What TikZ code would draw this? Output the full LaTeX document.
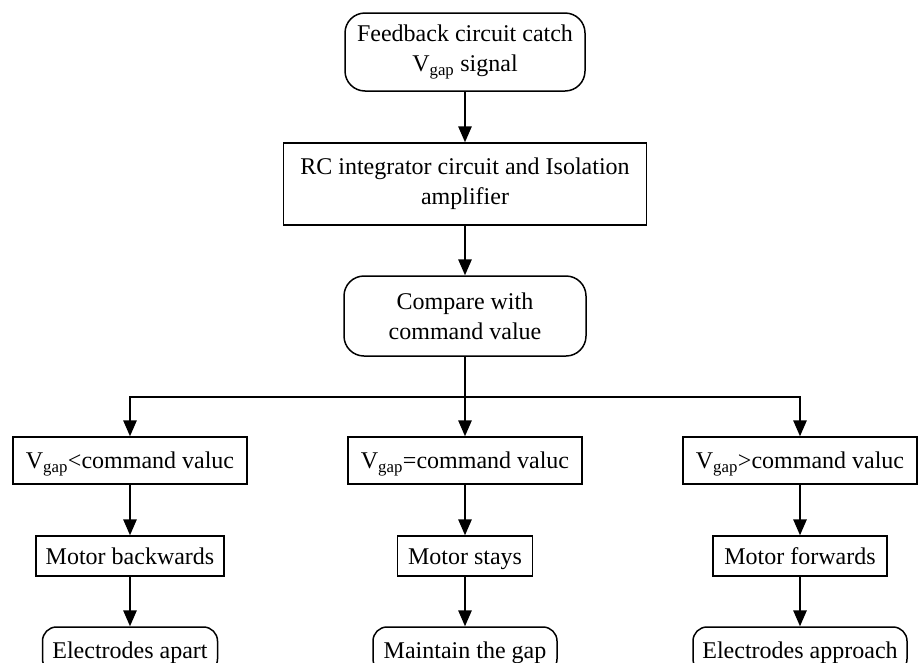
\documentclass[tikz,border=0pt]{standalone}
\usepackage{fontspec}
\setmainfont{Liberation Serif}
\usetikzlibrary{arrows.meta}

\tikzset{
  base/.style={draw, line width=1.5pt, inner sep=0pt, align=center,
               font=\fontsize{24}{30}\selectfont},
  oneline/.style={text height=20pt, text depth=4pt},
  rbox/.style={base},
  rnd/.style={base, rounded corners=20pt},
  rndsmall/.style={base, oneline, rounded corners=14pt},
  link/.style={line width=1.5pt, -{Triangle[length=16pt,width=13.5pt]}},
}

\begin{document}
\begin{tikzpicture}[x=1pt, y=-1pt]
\useasboundingbox (0,0) rectangle (918,662);

% main chain
\node[rnd, minimum width=240pt, minimum height=78pt] (fb) at (465,52)
  {Feedback circuit catch\\V\textsubscript{gap} signal};
\node[rbox, minimum width=363pt, minimum height=82pt] (rc) at (465,184)
  {RC integrator circuit and Isolation\\amplifier};
\node[rnd, minimum width=242pt, minimum height=80pt] (cmp) at (465,316)
  {Compare with\\command value};

% comparison outcomes
\node[rbox, oneline, minimum width=234pt, minimum height=47pt] (lt) at (130,460.5)
  {V\textsubscript{gap}<command valuc};
\node[rbox, oneline, minimum width=234pt, minimum height=47pt] (eq) at (465,460.5)
  {V\textsubscript{gap}=command valuc};
\node[rbox, oneline, minimum width=234pt, minimum height=47pt] (gt) at (800,460.5)
  {V\textsubscript{gap}>command valuc};

% motor actions
\node[rbox, oneline, minimum width=188pt, minimum height=40pt] (mb) at (130,556) {Motor backwards};
\node[rbox, oneline, minimum width=135pt, minimum height=40pt] (ms) at (465,556) {Motor stays};
\node[rbox, oneline, minimum width=174pt, minimum height=40pt] (mf) at (800,556) {Motor forwards};

% results
\node[rndsmall, minimum width=175pt, minimum height=46pt] (ea) at (130,650) {Electrodes apart};
\node[rndsmall, minimum width=184pt, minimum height=46pt] (mg) at (465,650) {Maintain the gap};
\node[rndsmall, minimum width=214pt, minimum height=46pt] (ep) at (800,650) {Electrodes approach};

\coordinate (split) at (465,397);
\coordinate (thk) at (647,397);

% connectors
\draw[link] (fb) -- (rc);
\draw[link] (rc) -- (cmp);
\draw[link] (cmp) -- (eq);
\draw[link] (split) -| (lt.north);
\draw[link] (split) -| (gt.north);
\draw[line width=2.6pt] (thk) -- (gt.north |- split);

\draw[link] (lt) -- (mb);
\draw[link] (eq) -- (ms);
\draw[link] (gt) -- (mf);
\draw[link] (mb) -- (ea);
\draw[link] (ms) -- (mg);
\draw[link] (mf) -- (ep);
\end{tikzpicture}
\end{document}
